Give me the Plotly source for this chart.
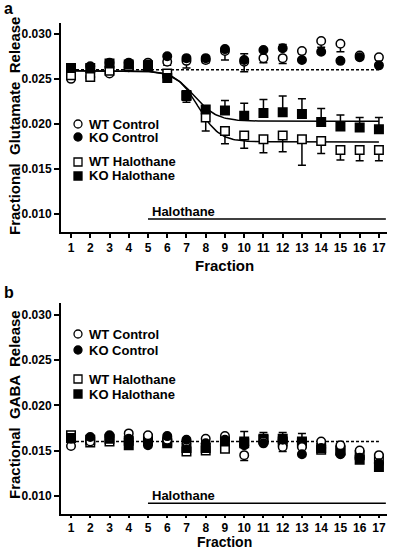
import numpy as np
import plotly.graph_objects as go

fractions = list(range(1, 18))
tick_vals_y = [0.010, 0.015, 0.020, 0.025, 0.030]

# ---- Panel a: glutamate ----
a_wt_ctrl = [0.0250, 0.0252, 0.0256, 0.0263, 0.0268, 0.0269, 0.0270, 0.0271, 0.0281, 0.0269,
             0.0273, 0.0273, 0.0281, 0.0292, 0.0289, 0.0276, 0.0274]
a_wt_ctrl_err = [0.0002, 0.0001, 0.0001, 0.0001, 0.0001, 0.0004, 0.0008, 0.0003, 0.0010, 0.0011,
                 0.0005, 0.0006, 0.0003, 0.0007, 0.0009, 0.0001, 0.0003]
a_ko_ctrl = [0.0260, 0.0264, 0.0268, 0.0268, 0.0266, 0.0275, 0.0273, 0.0273, 0.0283, 0.0271,
             0.0282, 0.0284, 0.0271, 0.0280, 0.0270, 0.0274, 0.0265]
a_ko_ctrl_err = [0.0001, 0.0001, 0.0001, 0.0001, 0.0001, 0.0001, 0.0001, 0.0001, 0.0001, 0.0007,
                 0.0001, 0.0004, 0.0001, 0.0001, 0.0001, 0.0001, 0.0001]
a_wt_hal = [0.0254, 0.0252, 0.0259, 0.0264, 0.0264, 0.0256, 0.0232, 0.0207, 0.0192, 0.0187,
            0.0183, 0.0187, 0.0183, 0.0181, 0.0171, 0.0171, 0.0171]
a_wt_hal_err = [0.0002, 0.0002, 0.0001, 0.0001, 0.0002, 0.0003, 0.0008, 0.0015, 0.0014, 0.0014,
                0.0015, 0.0018, 0.0029, 0.0014, 0.0011, 0.0012, 0.0012]
a_ko_hal = [0.0262, 0.0262, 0.0267, 0.0266, 0.0265, 0.0251, 0.0231, 0.0216, 0.0215, 0.0209,
            0.0212, 0.0213, 0.0211, 0.0202, 0.0197, 0.0196, 0.0194]
a_ko_hal_err = [0.0001, 0.0001, 0.0001, 0.0001, 0.0001, 0.0002, 0.0003, 0.0004, 0.0011, 0.0014,
                0.0015, 0.0018, 0.0017, 0.0015, 0.0013, 0.0011, 0.0013]

# sigmoid fit parameters (panel a)
fit_top = 0.0259
wt_bottom, wt_x50, wt_k = 0.0180, 7.6, 1.8
ko_bottom, ko_x50, ko_k = 0.0203, 7.4, 1.7
a_baseline = 0.026

# ---- Panel b: GABA ----
b_wt_ctrl = [0.0155, 0.0160, 0.0166, 0.0169, 0.0167, 0.0162, 0.0160, 0.0163, 0.0166, 0.0145,
             0.0160, 0.0154, 0.0154, 0.0160, 0.0156, 0.0150, 0.0145]
b_wt_ctrl_err = [0.0001, 0.0001, 0.0001, 0.0001, 0.0001, 0.0001, 0.0001, 0.0001, 0.0001, 0.0006,
                 0.0001, 0.0005, 0.0001, 0.0001, 0.0001, 0.0001, 0.0001]
b_ko_ctrl = [0.0163, 0.0165, 0.0167, 0.0163, 0.0156, 0.0166, 0.0162, 0.0158, 0.0162, 0.0156,
             0.0158, 0.0162, 0.0146, 0.0153, 0.0146, 0.0142, 0.0136]
b_wt_hal = [0.0167, 0.0159, 0.0160, 0.0161, 0.0163, 0.0160, 0.0149, 0.0150, 0.0152, 0.0158,
            0.0163, 0.0160, 0.0158, 0.0151, 0.0150, 0.0145, 0.0141]
b_wt_hal_err = [0.0001, 0.0002, 0.0001, 0.0001, 0.0001, 0.0001, 0.0001, 0.0001, 0.0001, 0.0001,
                0.0001, 0.0001, 0.0001, 0.0001, 0.0001, 0.0001, 0.0001]
b_ko_hal = [0.0164, 0.0162, 0.0163, 0.0156, 0.0161, 0.0158, 0.0153, 0.0153, 0.0160, 0.0160,
            0.0162, 0.0163, 0.0160, 0.0153, 0.0150, 0.0140, 0.0132]
b_ko_hal_err = [0.0001, 0.0001, 0.0001, 0.0001, 0.0001, 0.0001, 0.0001, 0.0001, 0.0001, 0.0011,
                0.0008, 0.0007, 0.0009, 0.0001, 0.0001, 0.0001, 0.0004]
b_baseline = 0.016

W, H = 408, 552
FONT = "Arial, Liberation Sans, sans-serif"


def px_x(p):
    return p / W


def px_y(p):
    return 1 - p / H


fig = go.Figure()


def add_series(vals, err_plus, err_minus, symbol, filled, xa, ya):
    fig.add_trace(go.Scatter(
        x=fractions, y=vals, mode="markers", xaxis=xa, yaxis=ya,
        marker=dict(symbol=symbol, size=8.5,
                    color="black" if filled else "white",
                    line=dict(color="black", width=1.5)),
        error_y=dict(type="data", symmetric=False,
                     array=err_plus, arrayminus=err_minus,
                     color="black", thickness=1.5, width=4),
        showlegend=False, cliponaxis=False,
    ))


zeros = [0] * 17
# Panel a traces
xc = np.linspace(1, 17, 200)
wt_fit = wt_bottom + (fit_top - wt_bottom) / (1 + np.exp((xc - wt_x50) * wt_k))
ko_fit = ko_bottom + (fit_top - ko_bottom) / (1 + np.exp((xc - ko_x50) * ko_k))
fig.add_trace(go.Scatter(x=[1, 17], y=[a_baseline, a_baseline], mode="lines", xaxis="x", yaxis="y",
                         line=dict(color="black", width=1.5, dash="3px,2px"), showlegend=False))
fig.add_trace(go.Scatter(x=xc, y=wt_fit, mode="lines", xaxis="x", yaxis="y",
                         line=dict(color="black", width=1.5), showlegend=False))
fig.add_trace(go.Scatter(x=xc, y=ko_fit, mode="lines", xaxis="x", yaxis="y",
                         line=dict(color="black", width=1.5), showlegend=False))
add_series(a_wt_ctrl, zeros, a_wt_ctrl_err, "circle", False, "x", "y")
add_series(a_ko_ctrl, a_ko_ctrl_err, zeros, "circle", True, "x", "y")
add_series(a_wt_hal, zeros, a_wt_hal_err, "square", False, "x", "y")
add_series(a_ko_hal, a_ko_hal_err, zeros, "square", True, "x", "y")

# Panel b traces
fig.add_trace(go.Scatter(x=[1, 17], y=[b_baseline, b_baseline], mode="lines", xaxis="x2", yaxis="y2",
                         line=dict(color="black", width=1.5, dash="3px,2px"), showlegend=False))
add_series(b_wt_hal, zeros, b_wt_hal_err, "square", False, "x2", "y2")
add_series(b_ko_hal, b_ko_hal_err, zeros, "square", True, "x2", "y2")
add_series(b_wt_ctrl, zeros, b_wt_ctrl_err, "circle", False, "x2", "y2")
add_series(b_ko_ctrl, zeros, zeros, "circle", True, "x2", "y2")

xdom = [px_x(61), px_x(387)]
common_x = dict(domain=xdom, range=[0.48, 17.42], showline=True, linewidth=2, linecolor="black",
                ticks="outside", ticklen=4, tickwidth=1.5, tickcolor="black",
                tickvals=fractions, ticktext=[str(f) for f in fractions],
                tickfont=dict(family=FONT, size=12, color="black", weight="bold"),
                showgrid=False, zeroline=False, fixedrange=True)
common_y = dict(range=[0.008, 0.0312], showline=True, linewidth=2, linecolor="black",
                ticks="outside", ticklen=5, tickwidth=1.5, tickcolor="black",
                tickvals=tick_vals_y, tickformat=".3f",
                tickfont=dict(family=FONT, size=12, color="black", weight="bold"),
                showgrid=False, zeroline=False, fixedrange=True)

fig.update_layout(
    width=W, height=H, margin=dict(l=0, r=0, t=0, b=0),
    paper_bgcolor="white", plot_bgcolor="white",
    xaxis=dict(common_x, anchor="y"),
    yaxis=dict(common_y, domain=[px_y(232), px_y(23)], anchor="x"),
    xaxis2=dict(common_x, anchor="y2", ticklen=2),
    yaxis2=dict(common_y, domain=[px_y(514), px_y(303)], anchor="x2", range=[0.008, 0.0313]),
)

shapes = []
annotations = []

# Halothane bars
shapes.append(dict(type="line", xref="x", yref="y", x0=5, x1=17.36, y0=0.00944, y1=0.00944,
                   line=dict(color="black", width=1.5)))
shapes.append(dict(type="line", xref="x2", yref="y2", x0=5, x1=17.36, y0=0.0092, y1=0.0092,
                   line=dict(color="black", width=1.5)))
annotations.append(dict(x=5.1, y=0.0103, xref="x", yref="y", text="<b>Halothane</b>", showarrow=False,
                        xanchor="left", yanchor="middle", font=dict(family=FONT, size=13, color="black")))
annotations.append(dict(x=5.1, y=0.0100, xref="x2", yref="y2", text="<b>Halothane</b>", showarrow=False,
                        xanchor="left", yanchor="middle", font=dict(family=FONT, size=13, color="black")))

# significance
annotations.append(dict(x=17.45, y=0.0202, xref="x", yref="y", text="***", showarrow=False,
                        xanchor="left", yanchor="middle", font=dict(family=FONT, size=12, color="black")))

# Legends
legend_labels = ["WT Control", "KO Control", "WT Halothane", "KO Halothane"]
legend_types = [("circle", False), ("circle", True), ("rect", False), ("rect", True)]
legend_rows = [[124, 137, 162, 176], [334, 350, 379, 394]]
r = 4
for rows in legend_rows:
    for lab, (typ, filled), py in zip(legend_labels, legend_types, rows):
        cx = 78
        shapes.append(dict(type=typ, xref="paper", yref="paper",
                           x0=px_x(cx - r), x1=px_x(cx + r), y0=px_y(py + r), y1=px_y(py - r),
                           line=dict(color="black", width=1.3),
                           fillcolor="black" if filled else "white"))
        annotations.append(dict(x=px_x(87), y=px_y(py), xref="paper", yref="paper",
                                text=f"<b>{lab}</b>", showarrow=False, xanchor="left", yanchor="middle",
                                font=dict(family=FONT, size=13, color="black")))

# Axis titles
annotations.append(dict(x=px_x(224), y=px_y(265), xref="paper", yref="paper", text="<b>Fraction</b>",
                        showarrow=False, xanchor="center", yanchor="middle",
                        font=dict(family=FONT, size=15, color="black")))
annotations.append(dict(x=px_x(224), y=0, xref="paper", yref="paper", text="<b>Fraction</b>",
                        showarrow=False, xanchor="center", yanchor="bottom",
                        font=dict(family=FONT, size=14, color="black")))
annotations.append(dict(x=px_x(14), y=px_y(126), xref="paper", yref="paper",
                        text="<b>Fractional  Glutamate  Release</b>", textangle=-90,
                        showarrow=False, xanchor="center", yanchor="middle",
                        font=dict(family=FONT, size=15, color="black")))
annotations.append(dict(x=px_x(14), y=px_y(405), xref="paper", yref="paper",
                        text="<b>Fractional  GABA  Release</b>", textangle=-90,
                        showarrow=False, xanchor="center", yanchor="middle",
                        font=dict(family=FONT, size=15, color="black")))
# Panel letters
annotations.append(dict(x=px_x(2), y=px_y(9), xref="paper", yref="paper", text="<b>a</b>",
                        showarrow=False, xanchor="left", yanchor="middle",
                        font=dict(family=FONT, size=16, color="black")))
annotations.append(dict(x=px_x(2), y=px_y(292), xref="paper", yref="paper", text="<b>b</b>",
                        showarrow=False, xanchor="left", yanchor="middle",
                        font=dict(family=FONT, size=16, color="black")))

fig.update_layout(shapes=shapes, annotations=annotations)
fig.write_html("out.html", config={"displayModeBar": False},
               post_script="document.body.style.margin='0px';")
